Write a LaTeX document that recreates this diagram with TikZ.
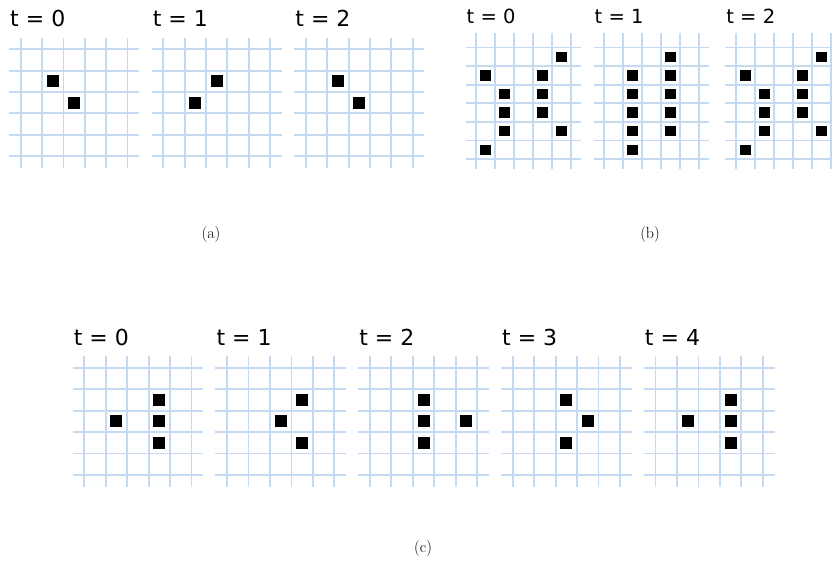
\documentclass[tikz,border=0pt]{standalone}
\usepackage{fontspec}
\usepackage{tikz}
\usetikzlibrary{positioning}
\newfontfamily\labelsans{DejaVu Sans}
\definecolor{gridblue}{HTML}{C6D9F2}

% one board: name, origin, x step, y step, last row line, label, live cells
\newcommand{\gridtop}{0.55}
\newcommand{\lifegrid}[7]{%
  \begin{scope}[shift={#2},x=#3,y=-#4]
    \foreach \ry in {0,...,#5}
      \draw[gridline] (-0.55,\ry) -- (5.55,\ry);
    \foreach \rx in {0,...,5}
      \draw[gridline] (\rx,-\gridtop) -- (\rx,#5+0.55);
    \foreach \cx/\cy in {#7}
      \fill[livecell] (\cx+0.22,\cy+0.22) rectangle (\cx+0.78,\cy+0.78);
    \node[steplabel] (#1) at (-0.5,-\gridtop-0.5) {#6};
  \end{scope}}

\begin{document}
\begin{tikzpicture}[
    x=1pt,y=-1pt,
    gridline/.style={draw=gridblue,line width=1.8pt},
    livecell/.style={fill=black},
    steplabel/.style={anchor=base west,inner sep=0pt,font=\labelsans\fontsize{22}{26}\selectfont},
    caption/.style={font=\fontsize{16}{19}\selectfont,inner sep=0pt}
  ]
    \useasboundingbox (0,0) rectangle (832,569);
    \clip (0,0) rectangle (832,569);

    % (a)
    \lifegrid{a0}{(20.7,49.3)}{21.35pt}{21.35pt}{5}{t = 0}{1/1,2/2}
    \lifegrid{a1}{(163.3,49.3)}{21.35pt}{21.35pt}{5}{t = 1}{2/1,1/2}
    \lifegrid{a2}{(305.9,49.3)}{21.35pt}{21.35pt}{5}{t = 2}{1/1,2/2}
    \node[caption] (capa) at (211,235) {(a)};

    % (b)
    \begin{scope}[steplabel/.append style={font=\labelsans\fontsize{19.5}{23}\selectfont}]
      \renewcommand{\gridtop}{0.8}
      \lifegrid{b0}{(476,47.5)}{19pt}{18.6pt}{6}{t = 0}{4/0,0/1,3/1,1/2,3/2,1/3,3/3,1/4,4/4,0/5}
      \lifegrid{b1}{(604,47.5)}{19pt}{18.6pt}{6}{t = 1}{3/0,1/1,3/1,1/2,3/2,1/3,3/3,1/4,3/4,1/5}
      \lifegrid{b2}{(735.7,47.5)}{19pt}{18.6pt}{6}{t = 2}{4/0,0/1,3/1,1/2,3/2,1/3,3/3,1/4,4/4,0/5}
    \end{scope}
    \node[caption] (capb) at (650,235) {(b)};

    % (c)
    \lifegrid{c0}{(84.3,367.7)}{21.45pt}{21.45pt}{5}{t = 0}{1/2,3/1,3/2,3/3}
    \lifegrid{c1}{(227.1,367.7)}{21.45pt}{21.45pt}{5}{t = 1}{3/1,2/2,3/3}
    \lifegrid{c2}{(369.9,367.7)}{21.45pt}{21.45pt}{5}{t = 2}{2/1,2/2,2/3,4/2}
    \lifegrid{c3}{(512.7,367.7)}{21.45pt}{21.45pt}{5}{t = 3}{2/1,3/2,2/3}
    \lifegrid{c4}{(655.5,367.7)}{21.45pt}{21.45pt}{5}{t = 4}{1/2,3/1,3/2,3/3}
    \node[caption] (capc) at (423,549) {(c)};
\end{tikzpicture}
\end{document}
